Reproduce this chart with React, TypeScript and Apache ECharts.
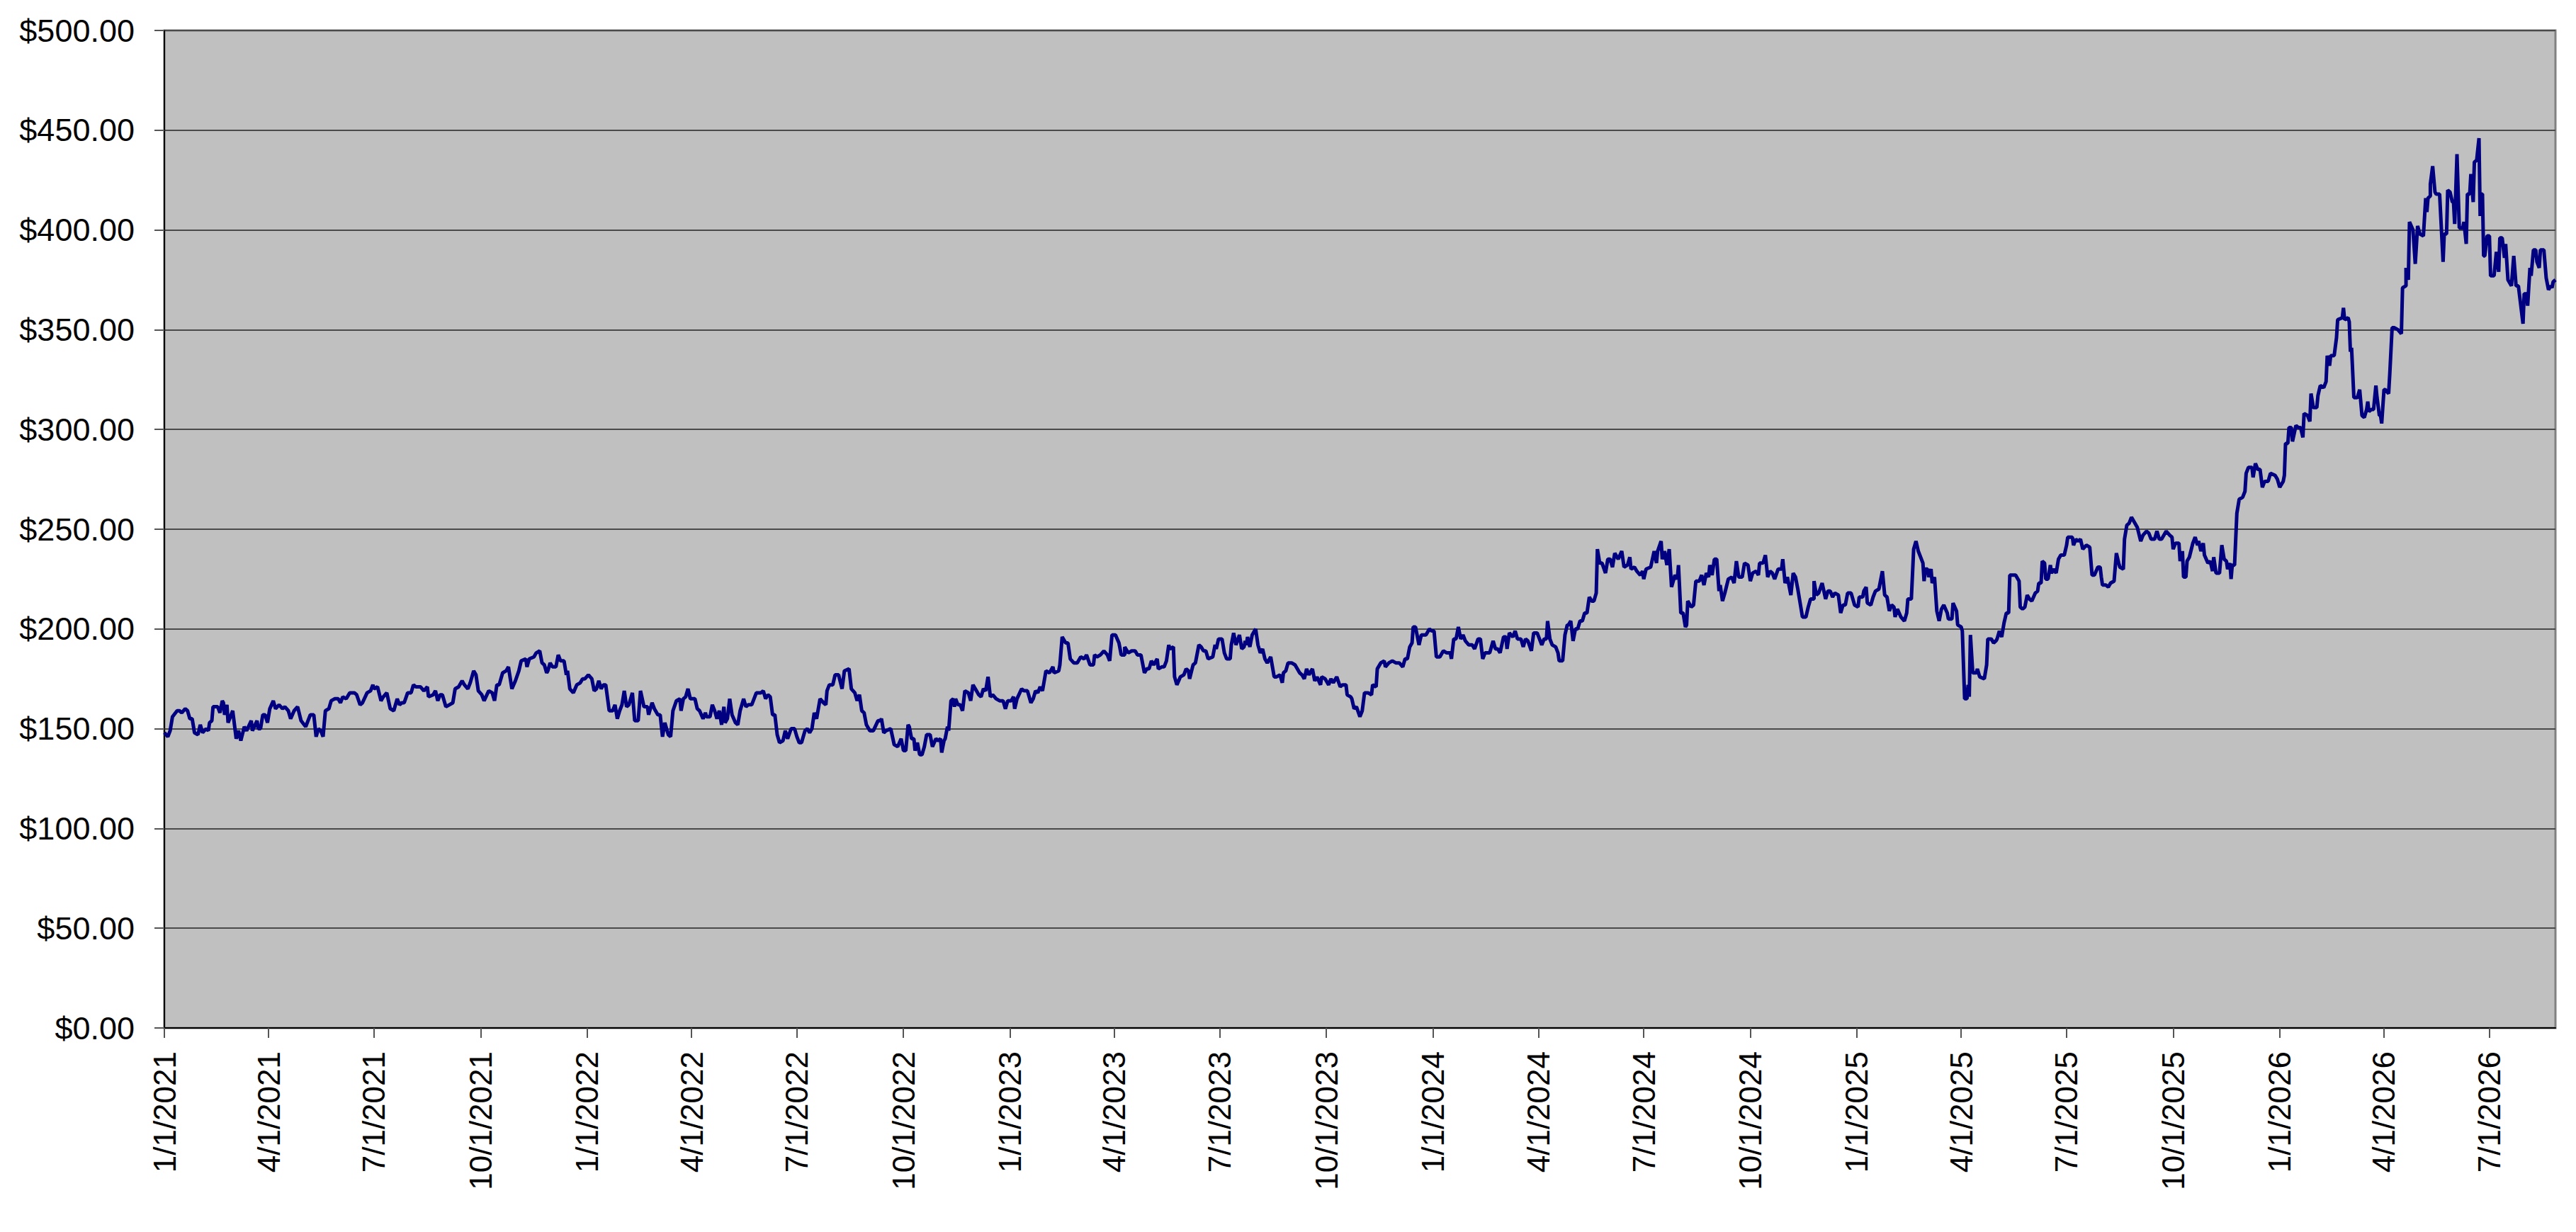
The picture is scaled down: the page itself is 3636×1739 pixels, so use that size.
import { useEffect, useRef } from "react";
import * as echarts from "echarts";

// Quarter tick labels on the date axis
const QUARTER_LABELS = [
  "1/1/2021", "4/1/2021", "7/1/2021", "10/1/2021",
  "1/1/2022", "4/1/2022", "7/1/2022", "10/1/2022",
  "1/1/2023", "4/1/2023", "7/1/2023", "10/1/2023",
  "1/1/2024", "4/1/2024", "7/1/2024", "10/1/2024",
  "1/1/2025", "4/1/2025", "7/1/2025", "10/1/2025",
  "1/1/2026", "4/1/2026", "7/1/2026",
];

const AXIS_START = "1/1/2021";
const LAST_DAY = 2064; // days after 1/1/2021 (about 8/27/2026)
const Y_MIN = 0;
const Y_MAX = 500;
const Y_STEP = 50;

// Price readings: [days after 1/1/2021, price in $]
const SEG_2021_A: [number, number][] = [
  [0,148],[3,146],[5,149],[7,156],[11,159],[13,159],[15,158],[18,160],[20,159],[22,155],[24,155],[26,148],[29,147],[31,152],[33,148],[36,150],[38,149],[39,153],[41,154],[42,161],[46,161],[48,158],[50,164],[51,163],[52,157],[54,162],[55,153],[59,159],[62,145],[64,149],[66,144],[69,151],[71,149],[75,154],[76,149],[80,154],[81,150],[83,150],[85,157],[87,157],[89,153],[91,160],[94,164],[96,160],[99,162],[102,160],[104,161],[107,159],[109,155],[112,159],[115,161],[118,154],[122,151],[126,157],[129,157],[131,146],[133,150],[135,149],[137,146],[139,159],[142,160],[144,164],[147,165],[150,165],[152,163],[154,166],[157,165],[160,168],[164,168],[166,167],[169,162],[171,163],[175,168],[178,169],[180,172],[181,170],[184,171],[187,164],[189,166],[192,168],[195,160],[198,159],[201,165],[203,162],[205,163],[207,163],[210,168],[213,168],[215,172],[217,171],[221,171],[224,169],[227,171],[228,166],[232,167],[234,169],[236,164],[238,167],[240,167],[243,161],[246,162],[249,163],[251,170],[254,171],[257,174],
];

const SEG_2021_B: [number, number][] = [
  [259,172],[262,170],[264,173],[267,179],[269,177],[271,169],[274,167],[276,164],[280,169],[283,168],[285,164],[287,172],[289,172],[292,178],[295,179],[297,181],[300,170],[303,174],[306,179],[308,184],[312,185],[313,181],[315,185],[319,186],[321,188],[324,189],[326,183],[328,182],[330,178],[331,179],[333,183],[335,181],[338,181],[340,187],[342,184],[345,184],[347,177],[348,179],[350,170],[353,168],[356,172],[359,173],[361,175],[363,175],[366,177],[369,175],[371,169],[373,170],[375,174],[377,170],[379,172],[381,172],[384,159],[387,159],[389,162],[391,155],[393,159],[395,162],[397,169],[399,161],[401,162],[404,168],[406,154],[409,154],[411,169],[414,161],[417,161],[418,157],[421,163],[423,160],[426,157],[428,157],[430,146],[432,153],[435,147],[437,146],[439,159],[442,164],[445,165],[446,159],[448,165],[450,166],[452,170],[454,165],[458,165],[460,160],[462,159],[465,155],[467,158],[468,156],[471,156],[473,162],[475,159],[477,155],[479,159],[481,152],[483,161],[484,153],[486,155],[488,165],[490,157],[493,153],[495,152],[497,159],[500,165],[502,161],[504,162],[507,162],[511,168],[514,168],
];

const SEG_2022: [number, number][] = [
  [515,168],[517,169],[519,165],[521,167],[523,166],[525,157],[527,157],[529,147],[531,143],[534,144],[536,149],[538,145],[541,150],[544,150],[546,146],[548,143],[550,143],[553,149],[555,150],[557,148],[559,150],[561,158],[563,155],[566,165],[569,163],[571,162],[572,169],[574,172],[577,172],[579,177],[582,177],[585,170],[587,179],[591,180],[593,170],[596,168],[598,164],[600,167],[602,159],[604,158],[606,152],[609,149],[612,149],[616,154],[618,154],[619,155],[621,148],[623,149],[627,150],[630,142],[633,141],[636,145],[638,139],[640,139],[642,152],[643,151],[645,145],[647,145],[648,139],[650,143],[652,137],[654,137],[656,141],[658,147],[661,147],[663,141],[666,145],[668,144],[670,145],[671,138],[673,144],[674,145],[676,151],[677,149],[679,164],[681,165],[682,161],[683,165],[685,162],[687,162],[689,159],[691,169],[694,168],[696,164],[698,172],[701,169],[703,167],[705,166],[707,170],[709,169],[711,176],[713,166],[715,167],[718,165],[721,164],[724,164],[726,160],[728,164],[731,164],[733,166],[734,160],[736,165],[740,170],[742,169],[745,169],[748,163],[750,165],[752,169],[754,168],[756,171],[758,169],[761,179],[764,178],[767,181],[768,178],[772,179],
];

const SEG_2023: [number, number][] = [
  [773,182],[775,196],[778,193],[780,193],[782,185],[785,183],[788,183],[791,186],[794,185],[796,187],[799,182],[802,182],[803,187],[805,186],[808,187],[811,189],[814,187],[816,184],[818,197],[821,197],[824,193],[826,187],[829,187],[829,191],[832,188],[835,189],[838,189],[840,187],[843,187],[846,178],[848,180],[850,180],[852,184],[854,182],[857,185],[858,180],[861,181],[863,181],[865,184],[867,192],[868,190],[871,191],[872,176],[874,172],[877,176],[880,177],[882,180],[884,179],[885,175],[888,182],[890,183],[893,192],[895,191],[897,189],[899,189],[901,185],[905,186],[907,192],[908,190],[910,195],[913,195],[915,188],[917,185],[920,185],[921,192],[923,198],[925,192],[928,197],[930,190],[932,191],[933,194],[934,192],[935,196],[937,191],[939,197],[942,200],[944,192],[946,188],[948,190],[950,185],[952,183],[955,186],[958,176],[960,176],[963,177],[965,173],[966,178],[968,179],[970,183],[973,183],[976,182],[980,178],[982,177],[984,175],[986,180],[988,177],[991,180],[993,174],[995,176],[998,172],[999,176],[1002,175],[1005,172],[1007,175],[1009,173],[1012,176],[1015,171],[1017,172],[1020,172],[1021,167],[1024,166],[1025,165],[1027,160],
];

const SEG_2024_A: [number, number][] = [
  [1029,161],[1032,156],[1034,159],[1036,168],[1039,168],[1042,167],[1043,172],[1046,171],[1047,180],[1050,183],[1053,184],[1054,181],[1057,183],[1060,184],[1063,183],[1066,183],[1069,181],[1071,185],[1073,185],[1075,191],[1077,193],[1078,201],[1080,201],[1081,198],[1083,192],[1085,197],[1089,197],[1092,200],[1094,199],[1096,199],[1098,186],[1101,186],[1104,189],[1107,188],[1110,188],[1111,185],[1113,195],[1115,195],[1117,201],[1119,195],[1121,197],[1123,194],[1126,192],[1129,192],[1131,190],[1134,195],[1136,195],[1138,185],[1140,188],[1144,188],[1147,194],[1149,190],[1151,190],[1153,188],[1156,196],[1158,196],[1159,190],[1161,198],[1164,196],[1166,199],[1168,195],[1171,195],[1173,191],[1175,195],[1177,194],[1180,189],[1182,198],[1185,198],[1187,195],[1189,192],[1191,195],[1193,195],[1194,204],[1196,195],[1198,192],[1201,191],[1203,188],[1204,184],[1207,184],[1209,197],[1211,202],[1212,202],[1214,204],[1216,194],[1218,200],[1220,200],[1222,204],[1224,204],[1226,208],[1228,208],[1230,216],[1232,214],[1234,214],[1236,218],[1237,240],[1239,233],[1241,233],[1244,228],[1246,235],[1248,235],[1250,231],[1252,238],[1255,235],[1258,239],[1260,231],[1263,232],[1265,236],[1266,230],[1269,231],[1271,229],[1274,227],[1276,229],[1277,225],[1279,230],[1283,231],
];

const SEG_2024_B: [number, number][] = [
  [1286,239],[1288,233],[1289,239],[1292,244],[1293,235],[1295,239],[1297,232],[1299,240],[1301,221],[1304,227],[1306,225],[1307,232],[1309,208],[1311,208],[1313,201],[1314,202],[1315,214],[1318,211],[1320,212],[1321,218],[1322,224],[1325,224],[1327,227],[1329,222],[1331,228],[1333,226],[1334,232],[1336,227],[1338,235],[1340,235],[1342,219],[1343,222],[1345,214],[1347,218],[1350,225],[1353,226],[1355,223],[1357,234],[1359,226],[1362,226],[1364,233],[1367,232],[1369,224],[1371,228],[1374,229],[1376,227],[1377,233],[1380,233],[1382,237],[1384,226],[1386,229],[1388,228],[1390,225],[1393,230],[1396,230],[1397,235],[1399,223],[1401,226],[1404,217],[1406,228],[1408,226],[1410,220],[1412,213],[1414,206],[1417,206],[1419,211],[1421,215],[1424,215],[1424,224],[1426,217],[1428,218],[1431,223],[1434,215],[1436,219],[1438,219],[1440,216],[1442,218],[1445,217],[1447,208],[1449,212],[1451,212],[1453,218],[1456,218],[1459,212],[1462,211],[1463,216],[1466,216],[1467,219],[1469,221],[1470,213],[1473,212],[1475,216],[1477,219],[1480,220],[1483,229],[1485,217],[1487,216],[1489,209],[1491,212],[1493,211],[1494,206],[1496,210],[1499,206],[1502,204],[1504,208],[1505,215],[1508,215],[1510,240],[1512,244],[1514,239],[1516,236],[1518,233],[1519,224],[1520,230],[1522,230],[1523,226],[1525,230],[1526,223],[1528,226],[1530,209],[1532,204],[1534,210],[1536,212],[1539,208],[1540,205],[1543,205],[1544,213],
];

const SEG_2025: [number, number][] = [
  [1547,209],[1548,202],[1551,201],[1552,199],[1554,165],[1556,165],[1557,172],[1558,166],[1559,197],[1561,178],[1564,178],[1565,180],[1567,176],[1571,175],[1573,182],[1574,195],[1577,195],[1579,193],[1581,194],[1582,195],[1584,199],[1586,196],[1588,203],[1590,208],[1592,208],[1593,227],[1596,227],[1598,227],[1601,224],[1602,211],[1604,210],[1606,211],[1608,217],[1610,215],[1612,214],[1615,218],[1617,219],[1618,223],[1620,223],[1621,234],[1623,233],[1624,225],[1626,225],[1628,232],[1629,228],[1631,230],[1633,228],[1635,235],[1637,237],[1640,237],[1642,242],[1643,246],[1647,246],[1648,242],[1650,245],[1652,244],[1654,245],[1656,240],[1659,242],[1662,241],[1664,227],[1666,227],[1669,231],[1671,231],[1672,226],[1673,222],[1676,222],[1678,221],[1680,223],[1683,224],[1685,238],[1687,233],[1688,231],[1691,230],[1692,245],[1694,252],[1696,253],[1698,256],[1701,253],[1703,251],[1706,244],[1708,247],[1711,249],[1713,248],[1715,245],[1718,245],[1720,249],[1722,245],[1724,245],[1728,249],[1731,247],[1733,246],[1734,240],[1736,243],[1739,243],[1740,234],[1742,239],[1743,226],[1745,226],[1746,234],[1748,236],[1751,243],[1753,246],[1755,242],[1756,244],[1758,239],[1760,243],[1761,237],[1764,233],[1766,234],[1768,229],[1769,236],[1771,228],[1774,228],[1776,242],[1778,235],[1780,234],[1781,230],[1783,233],[1784,225],[1785,232],[1787,232],[1789,258],[1791,265],[1794,266],[1796,269],[1797,278],[1799,281],[1802,281],[1803,276],[1805,283],
];

const SEG_2026: [number, number][] = [
  [1807,280],[1809,280],[1811,271],[1813,274],[1816,274],[1818,278],[1822,277],[1824,275],[1826,271],[1829,274],[1830,277],[1831,293],[1833,293],[1834,301],[1836,301],[1837,294],[1840,302],[1842,301],[1844,301],[1846,296],[1847,308],[1850,307],[1852,304],[1853,318],[1855,311],[1858,311],[1859,317],[1861,322],[1864,321],[1866,324],[1867,337],[1869,332],[1870,337],[1873,337],[1875,346],[1876,355],[1880,356],[1881,361],[1882,355],[1885,356],[1886,354],[1887,339],[1888,341],[1890,316],[1893,316],[1895,320],[1897,307],[1899,306],[1901,310],[1902,314],[1903,309],[1905,310],[1907,310],[1909,322],[1910,316],[1912,307],[1913,307],[1914,303],[1916,320],[1917,320],[1920,318],[1921,328],[1923,351],[1925,351],[1928,350],[1931,348],
  [1932,371],[1935,372],[1935,381],[1937,375],[1938,404],[1941,400],[1943,383],[1945,402],[1947,398],[1950,397],[1952,416],[1953,409],[1954,416],[1956,417],[1956,423],[1958,432],[1960,419],[1961,418],[1964,418],[1967,384],[1968,398],[1970,398],[1971,420],[1973,419],[1975,414],[1976,414],[1977,403],[1979,438],[1981,401],[1984,401],[1985,404],[1987,393],[1988,418],[1990,418],[1991,428],[1993,414],[1994,434],[1996,435],[1998,446],[1999,407],[2000,418],[2001,418],[2002,387],[2003,387],[2005,397],[2007,397],[2008,377],[2011,377],[2013,389],[2015,379],[2016,396],[2018,396],[2020,386],[2021,393],[2023,375],[2026,372],[2028,387],[2030,372],[2032,372],[2036,353],[2037,368],[2039,368],[2040,362],[2042,381],[2043,377],[2045,390],[2047,390],[2048,384],[2050,381],[2051,390],[2054,390],[2056,376],[2058,370],[2060,372],[2061,371],[2062,374],[2064,375],
];

const FONT = "'Liberation Sans', Arial, Helvetica, sans-serif";

function dayOf(label: string): number {
  const [m, d, y] = label.split("/").map(Number);
  const [m0, d0, y0] = AXIS_START.split("/").map(Number);
  return Math.round((Date.UTC(y, m - 1, d) - Date.UTC(y0, m0 - 1, d0)) / 86400000);
}

export default function App() {
  const ref = useRef<HTMLDivElement>(null);

  useEffect(() => {
    if (!ref.current) return;
    const chart = echarts.init(ref.current, null, { renderer: "svg" });
    const quarterDays = QUARTER_LABELS.map(dayOf);
    const labelByDay = new Map<number, string>();
    quarterDays.forEach((d, i) => labelByDay.set(d, QUARTER_LABELS[i]));

    const data = [
      ...SEG_2021_A, ...SEG_2021_B, ...SEG_2022, ...SEG_2023,
      ...SEG_2024_A, ...SEG_2024_B, ...SEG_2025, ...SEG_2026,
    ];

    chart.setOption({
      animation: false,
      backgroundColor: "#ffffff",
      textStyle: { fontFamily: FONT },
      grid: {
        left: 232,
        right: 29,
        top: 43,
        bottom: 288,
        show: true,
        backgroundColor: "#C0C0C0",
        borderColor: "#808080",
        borderWidth: 3,
      },
      xAxis: {
        type: "value",
        min: 0,
        max: LAST_DAY,
        splitLine: { show: false },
        axisLine: { show: true, onZero: false, lineStyle: { color: "#000000", width: 2 } },
        axisTick: {
          show: true,
          customValues: quarterDays,
          length: 14,
          lineStyle: { color: "#555555", width: 2 },
        },
        axisLabel: {
          show: true,
          customValues: quarterDays,
          rotate: 90,
          margin: 33,
          fontSize: 44,
          color: "#000000",
          fontFamily: FONT,
          formatter: (v: number) => labelByDay.get(Math.round(v)) ?? "",
        },
      },
      yAxis: {
        type: "value",
        min: Y_MIN,
        max: Y_MAX,
        interval: Y_STEP,
        axisLine: { show: true, lineStyle: { color: "#000000", width: 2 } },
        axisTick: { show: true, length: 14, lineStyle: { color: "#555555", width: 2 } },
        splitLine: { show: true, lineStyle: { color: "#4a4a4a", width: 2 } },
        axisLabel: {
          margin: 42,
          fontSize: 45,
          color: "#000000",
          fontFamily: FONT,
          formatter: (v: number) => "$" + v.toFixed(2),
        },
      },
      series: [
        {
          type: "line",
          data,
          showSymbol: false,
          symbol: "none",
          silent: true,
          lineStyle: { color: "#000080", width: 5 },
          itemStyle: { color: "#000080" },
        },
      ],
    });

    return () => chart.dispose();
  }, []);

  return (
    <div
      ref={ref}
      style={{ position: "fixed", left: 0, top: 0, width: 3636, height: 1739 }}
    />
  );
}
